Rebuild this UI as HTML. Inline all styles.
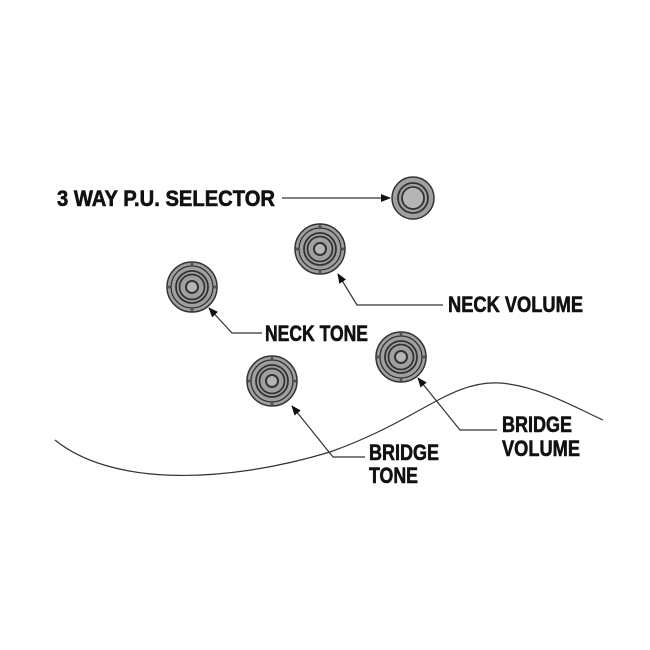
<!DOCTYPE html>
<html><head><style>body{margin:0;background:#fff}svg{display:block}</style></head><body>
<svg width="650" height="650" viewBox="0 0 650 650" xmlns="http://www.w3.org/2000/svg">
<defs>
<marker id="a" markerWidth="10" markerHeight="8" refX="9" refY="4" orient="auto" markerUnits="userSpaceOnUse"><path d="M0,0 L10,4 L0,8 z" fill="#111"/></marker>
<g id="k">
<circle r="25" fill="#a0a0a0" stroke="#333" stroke-width="1.5"/>
<circle r="21" fill="none" stroke="#333" stroke-width="1.3"/>
<circle r="16" fill="none" stroke="#333" stroke-width="1.8"/>
<circle r="12.5" fill="none" stroke="#333" stroke-width="1.8"/>
<circle r="6" fill="#b5b5b5" stroke="#333" stroke-width="2"/>
<g fill="#555"><circle cx="0" cy="-23" r="1.5"/><circle cx="0" cy="23" r="1.5"/><circle cx="-23" cy="0" r="1.5"/><circle cx="23" cy="0" r="1.5"/></g>
</g>
</defs>
<path d="M55,440 C110,485 220,485 330,452 C420,420 450,380 500,383 C540,386 580,410 603,420" fill="none" stroke="#333" stroke-width="1.2"/>
<g>
<circle cx="413" cy="198" r="21" fill="#a0a0a0" stroke="#333" stroke-width="1.5"/>
<circle cx="413" cy="198" r="15" fill="none" stroke="#333" stroke-width="1.8"/>
<circle cx="413" cy="198" r="11" fill="#b5b5b5" stroke="#333" stroke-width="1.8"/>
</g>
<use href="#k" x="320" y="249"/>
<use href="#k" x="192" y="287"/>
<use href="#k" x="401" y="357"/>
<use href="#k" x="272" y="381"/>
<g fill="none" stroke="#333" stroke-width="1.2">
<path d="M282,198 L390,198" marker-end="url(#a)"/>
<path d="M443,305 L357,305 L338,274" marker-end="url(#a)"/>
<path d="M262,333 L232,333 L209,308" marker-end="url(#a)"/>
<path d="M497,430 L460,430 L418,378" marker-end="url(#a)"/>
<path d="M365,457 L333,457 L292,406" marker-end="url(#a)"/>
</g>
<g font-family="Liberation Sans, sans-serif" font-weight="bold" font-size="22" fill="#111" stroke="#111" stroke-width="0.6">
<text x="57" y="206" textLength="218" lengthAdjust="spacingAndGlyphs">3 WAY P.U. SELECTOR</text>
<text x="448" y="312" textLength="135" lengthAdjust="spacingAndGlyphs">NECK VOLUME</text>
<text x="265" y="341" textLength="103" lengthAdjust="spacingAndGlyphs">NECK TONE</text>
<text x="502" y="432" textLength="70" lengthAdjust="spacingAndGlyphs">BRIDGE</text>
<text x="502" y="456" textLength="78" lengthAdjust="spacingAndGlyphs">VOLUME</text>
<text x="369" y="460" textLength="70" lengthAdjust="spacingAndGlyphs">BRIDGE</text>
<text x="369" y="483" textLength="49" lengthAdjust="spacingAndGlyphs">TONE</text>
</g>
</svg>
</body></html>
